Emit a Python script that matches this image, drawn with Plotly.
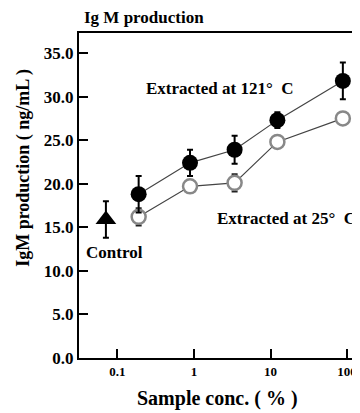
import plotly.graph_objects as go

conc = [0.19, 0.89, 3.4, 12.3, 88]
igm_121 = [18.8, 22.4, 23.9, 27.3, 31.8]
err_121 = [2.1, 1.5, 1.6, 0.9, 2.1]
igm_25 = [16.2, 19.7, 20.1, 24.8, 27.5]
err_25 = [1.0, 0.4, 1.0, 0.4, 0.3]
control_x = [0.071]
control_y = [15.9]
control_err = [2.1]
xticks = [0.1, 1, 10, 100]
xticklabels = ["0.1", "1", "10", "100"]
yticks = [0, 5, 10, 15, 20, 25, 30, 35]

FONT = "Liberation Serif"

# page body adds an 8px margin; plot area in page pixels: x 79..357, y 33..358
PX0, PX1, PY0, PY1 = 79, 357, 33, 358
OFF = 8
W, H = 360 - OFF, 413 - OFF


def px(x):
    return (x - PX0) / (PX1 - PX0)


def py(y):
    return (PY1 - y) / (PY1 - PY0)


fig = go.Figure()
fig.add_trace(go.Scatter(
    x=conc, y=igm_25, mode="lines+markers",
    line=dict(color="#444444", width=1.2),
    marker=dict(symbol="circle", size=14, color="white",
                line=dict(color="#888888", width=2.5)),
    error_y=dict(type="data", array=err_25, color="#222222", thickness=2, width=3),
    showlegend=False, cliponaxis=False))
fig.add_trace(go.Scatter(
    x=conc, y=igm_121, mode="lines+markers",
    line=dict(color="#444444", width=1.2),
    marker=dict(symbol="circle", size=16, color="black"),
    error_y=dict(type="data", array=err_121, color="black", thickness=2, width=3),
    showlegend=False, cliponaxis=False))
fig.add_trace(go.Scatter(
    x=control_x, y=control_y, mode="markers",
    marker=dict(symbol="triangle-up", size=18, color="black"),
    error_y=dict(type="data", array=control_err, color="black", thickness=2, width=3),
    showlegend=False))

tfont = dict(family=FONT, size=17, color="black", weight="bold")

fig.update_layout(
    width=W, height=H,
    margin=dict(l=PX0 - OFF, r=W - (PX1 - OFF), t=PY0 - OFF, b=H - (PY1 - OFF)),
    plot_bgcolor="white", paper_bgcolor="white",
    font=dict(family=FONT, color="black"),
    xaxis=dict(type="log", range=[-1.5, 2.077], tickvals=xticks, ticktext=xticklabels,
               ticks="inside", ticklen=9, tickwidth=2, tickcolor="black",
               showline=True, linecolor="black", linewidth=2, mirror=True,
               showgrid=False, zeroline=False,
               tickfont=dict(family=FONT, size=13, color="black", weight="bold")),
    yaxis=dict(range=[0, 37.3], tickvals=yticks, tickformat=".1f",
               ticks="inside", ticklen=9, tickwidth=2, tickcolor="black",
               showline=True, linecolor="black", linewidth=2, mirror=True,
               showgrid=False, zeroline=False,
               tickfont=dict(family=FONT, size=17, color="black", weight="bold")),
    annotations=[
        dict(text="Ig M production", xref="paper", yref="paper",
             x=px(82), y=py(17), xanchor="left", yanchor="middle",
             showarrow=False, font=tfont),
        dict(text="Extracted at 121°  C", xref="paper", yref="paper",
             x=px(145), y=py(89), xanchor="left", yanchor="middle",
             showarrow=False, font=tfont),
        dict(text="Extracted at 25°  C", xref="paper", yref="paper",
             x=px(217), y=py(218), xanchor="left", yanchor="middle",
             showarrow=False, font=tfont),
        dict(text="Control", xref="paper", yref="paper",
             x=px(84), y=py(252), xanchor="left", yanchor="middle",
             showarrow=False, font=tfont),
        dict(text="IgM production ( ng/mL )", xref="paper", yref="paper",
             x=px(22), y=py(168), xanchor="center", yanchor="middle",
             textangle=-90, showarrow=False,
             font=dict(family=FONT, size=18, color="black", weight="bold")),
        dict(text="Sample conc. ( % )", xref="paper", yref="paper",
             x=px(220), y=py(398), xanchor="center", yanchor="middle",
             showarrow=False, font=dict(family=FONT, size=20, color="black", weight="bold")),
    ],
)
fig.write_html("out.html")
